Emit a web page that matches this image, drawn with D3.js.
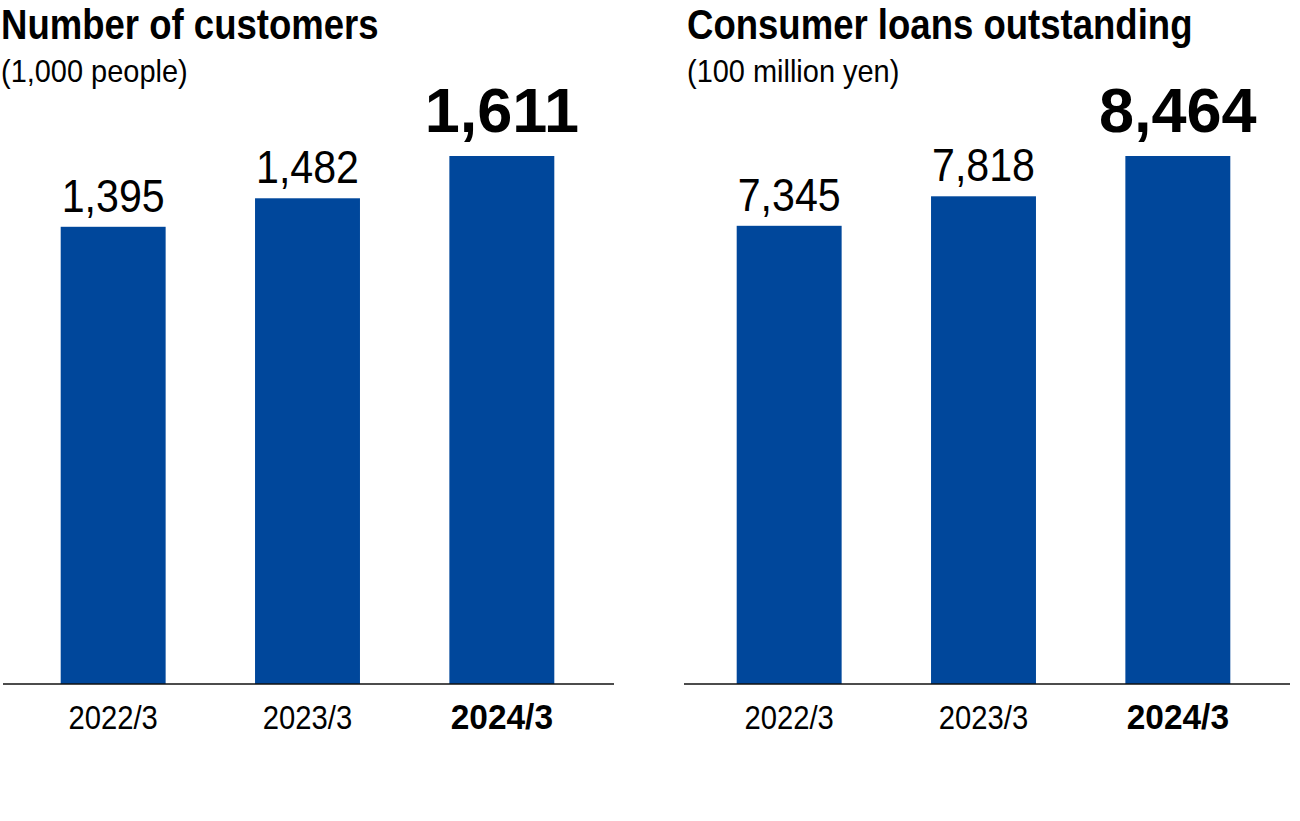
<!DOCTYPE html>
<html>
<head>
<meta charset="utf-8">
<script src="https://cdn.jsdelivr.net/npm/d3@7"></script>
<style>
  html, body { margin: 0; padding: 0; background: #fff; }
  svg { display: block; }
  text { font-family: "Liberation Sans", Arial, Helvetica, sans-serif; fill: #000; }
</style>
</head>
<body>
<svg id="chart" width="1300" height="821"></svg>
<script>
const categories = ["2022/3", "2023/3", "2024/3"];
const customers = [1395, 1482, 1611];
const loans = [7345, 7818, 8464];
const titles = ["Number of customers", "Consumer loans outstanding"];
const units = ["(1,000 people)", "(100 million yen)"];

const panels = [
  { title: titles[0], unit: units[0], values: customers, x0: 1, lineX: [3, 614], band: [16, 599] },
  { title: titles[1], unit: units[1], values: loans, x0: 687, lineX: [684, 1290], band: [692, 1275] }
];

const svg = d3.select("#chart");
const baseY = 684, topY = 156;
const barColor = "#00479b";
const fmt = d3.format(",");

// condensed-look text: horizontally scaled glyphs
function ctext(g, x, y, sx, str, size, weight, anchor) {
  return g.append("text")
    .attr("transform", `translate(${x},${y}) scale(${sx},1)`)
    .attr("font-size", size)
    .attr("font-weight", weight)
    .attr("text-anchor", anchor)
    .text(str);
}

panels.forEach(p => {
  const g = svg.append("g");
  const x = d3.scaleBand().domain(categories).range(p.band).paddingInner(0.46).paddingOuter(0.23);
  const y = d3.scaleLinear().domain([0, d3.max(p.values)]).range([baseY, topY]);
  const data = categories.map((c, i) => ({ c, v: p.values[i], last: i === categories.length - 1 }));

  ctext(g, p.x0, 39, 0.86, p.title, 42.5, "bold", "start");
  ctext(g, p.x0, 82, 0.905, p.unit, 32, "normal", "start");

  g.selectAll("rect.bar").data(data).join("rect").attr("class", "bar")
    .attr("x", d => x(d.c)).attr("width", x.bandwidth())
    .attr("y", d => y(d.v)).attr("height", d => baseY - y(d.v))
    .attr("fill", barColor);

  data.forEach(d => {
    const cx = x(d.c) + x.bandwidth() / 2;
    if (d.last) {
      ctext(g, cx, y(d.v) - 24, 1.0, fmt(d.v), 63, "bold", "middle");
    } else {
      ctext(g, cx, y(d.v) - 15, 0.875, fmt(d.v), 47, "normal", "middle");
    }
  });

  g.append("line").attr("x1", p.lineX[0]).attr("x2", p.lineX[1])
    .attr("y1", baseY).attr("y2", baseY).attr("stroke", "#111").attr("stroke-width", 1.5);

  data.forEach(d => {
    const cx = x(d.c) + x.bandwidth() / 2;
    if (d.last) ctext(g, cx, 729, 0.93, d.c, 36, "bold", "middle");
    else ctext(g, cx, 729, 0.86, d.c, 34, "normal", "middle");
  });
});
</script>
</body>
</html>
